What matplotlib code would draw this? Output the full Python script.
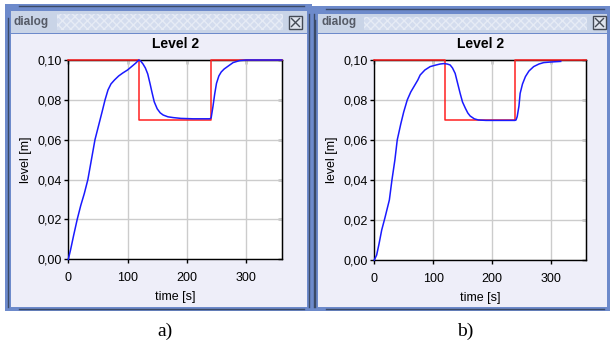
import matplotlib
matplotlib.use("Agg")
import matplotlib.pyplot as plt
from matplotlib.patches import Rectangle

# Data
t_ref = [0, 120, 120, 240, 240, 360]
level_ref = [0.10, 0.10, 0.07, 0.07, 0.10, 0.10]

t_a = [0, 4, 9, 15, 21, 27, 33, 39, 45, 51, 57, 62, 67, 72, 78, 85, 92, 100,
       108, 114, 119, 122, 126, 130, 134, 138, 141, 145, 150, 155, 160, 168,
       177, 190, 210, 239, 241, 244, 247, 250, 254, 258, 263, 270, 278, 289,
       300, 360]
level_a = [0.000, 0.005, 0.012, 0.020, 0.027, 0.033, 0.040, 0.050, 0.060,
           0.067, 0.074, 0.080, 0.085, 0.088, 0.090, 0.092, 0.0935, 0.095,
           0.097, 0.0985, 0.100, 0.0995, 0.098, 0.096, 0.093, 0.088, 0.084,
           0.079, 0.0755, 0.0735, 0.0724, 0.0715, 0.0711, 0.0707, 0.0705,
           0.0705, 0.071, 0.0766, 0.083, 0.0883, 0.092, 0.094, 0.0955, 0.097,
           0.0987, 0.0997, 0.100, 0.100]

t_b = [0, 4, 8, 12.6, 18, 25.6, 30, 35, 39, 45, 50, 56, 62, 68, 74, 78, 86,
       95, 105, 112, 118, 124, 129, 133, 137.5, 142, 146, 150, 155, 159, 163,
       170, 177, 190, 210, 239, 241, 243, 246, 248, 252, 257, 263, 271, 280,
       288, 300, 317]
level_b = [0.000, 0.0025, 0.008, 0.015, 0.021, 0.030, 0.040, 0.050, 0.060,
           0.068, 0.074, 0.080, 0.084, 0.087, 0.090, 0.0925, 0.095, 0.0967,
           0.0975, 0.098, 0.0982, 0.098, 0.0975, 0.096, 0.0933, 0.088, 0.0833,
           0.079, 0.0758, 0.0735, 0.072, 0.0706, 0.070, 0.0698, 0.0698, 0.0698,
           0.0700, 0.0717, 0.077, 0.0833, 0.088, 0.0917, 0.0945, 0.0967, 0.098,
           0.0987, 0.099, 0.0993]

x_ticks = [0, 100, 200, 300]
y_ticks = [0.00, 0.02, 0.04, 0.06, 0.08, 0.10]
y_tick_labels = ["0,00", "0,02", "0,04", "0,06", "0,08", "0,10"]
captions = ["a)", "b)"]

W, H = 610, 347
plt.rcParams['font.family'] = ['Liberation Sans', 'DejaVu Sans']

fig = plt.figure(figsize=(W / 100, H / 100), dpi=100)
fig.patch.set_facecolor("white")

# background canvas in pixel coordinates (origin top-left)
bg = fig.add_axes([0, 0, 1, 1], zorder=0)
bg.set_xlim(0, W)
bg.set_ylim(H, 0)
bg.axis("off")

BLUE = "#6d8acb"
DARK = "#3b4a66"
CONTENT = "#eeeef9"
TITLEBAR = "#c9d4e7"


def rect(x0, y0, x1, y1, **kw):
    bg.add_patch(Rectangle((x0, y0), x1 - x0, y1 - y0, **kw))


def window(x0, y0, x1, y1, top_line, close_x):
    rect(x0, y0, x1, y1, facecolor=BLUE, edgecolor="none")
    # dark inner frame lines
    bg.plot([x0 + 3, x0 + 3], [y0 + 14, y1 - 4], color=DARK, lw=1)
    bg.plot([x0 + 14, x1 - 8], [top_line, top_line], color=DARK, lw=1)
    bg.plot([x0 + 14, x1 - 8], [y1 - 2, y1 - 2], color=DARK, lw=1)
    # title bar
    rect(x0 + 6, top_line + 5, x1 - 5, 33, facecolor=TITLEBAR, edgecolor="none")
    rect(x0 + 52, top_line + 8, close_x - 6, 30, facecolor="#d3dcee",
         edgecolor="#e6ebf5", hatch="xxxx", lw=0)
    bg.text(x0 + 9, 22, "dialog", fontsize=8.5, fontweight="bold",
            color="#555a66", va="center", ha="left")
    # close box
    rect(close_x, 16, close_x + 13, 29, facecolor="#dfe4ee", edgecolor="#444a55", lw=1)
    bg.plot([close_x + 2.5, close_x + 10.5], [18.5, 26.5], color="#444a55", lw=1)
    bg.plot([close_x + 2.5, close_x + 10.5], [26.5, 18.5], color="#444a55", lw=1)
    # content
    rect(x0 + 6, 34, x1 - 5, y1 - 4, facecolor=CONTENT, edgecolor="none")


window(5, 4, 312, 311, 6, 289)
window(312, 6, 612, 311, 9, 593)
bg.plot([309, 309], [14, 307], color=DARK, lw=1)
bg.plot([314, 314], [14, 307], color=DARK, lw=1)

panels = [
    (68.3, 281.7, 259.3, t_a, level_a, 165),
    (374.3, 586.0, 260.0, t_b, level_b, 465),
]

for (px0, px1, py0, t, lev, cap_x), cap in zip(panels, captions):
    py1 = 60.0
    ax = fig.add_axes([px0 / W, (H - py0) / H, (px1 - px0) / W, (py0 - py1) / H],
                      zorder=2)
    ax.set_facecolor("white")
    ax.grid(True, color="#cccccc", lw=1)
    ax.set_axisbelow(True)
    ax.plot(t_ref, level_ref, color="#ff2020", lw=1.1, zorder=4, clip_on=False)
    ax.plot(t, lev, color="#1a1aff", lw=1.1, zorder=5, clip_on=False)
    ax.set_xlim(0, 360)
    ax.set_ylim(0, 0.10)
    ax.set_xticks(x_ticks)
    ax.set_yticks(y_ticks)
    ax.set_yticklabels(y_tick_labels)
    ax.tick_params(direction="out", length=3, width=1, labelsize=9,
                   colors="black")
    ax.tick_params(axis="y", pad=1.5)
    ax.tick_params(axis="x", pad=6)
    for s in ax.spines.values():
        s.set_linewidth(1)
        s.set_color("black")
    # inward ticks on top and right
    top = ax.secondary_xaxis("top")
    top.set_xticks(x_ticks)
    top.tick_params(direction="in", length=3, width=1, labeltop=False)
    right = ax.secondary_yaxis("right")
    right.set_yticks(y_ticks)
    right.tick_params(direction="in", length=3, width=1, labelright=False)

    ax.set_xlabel("time [s]", fontsize=9)
    ax.xaxis.set_label_coords(0.5, -0.16)
    ax.set_ylabel("level [m]", fontsize=9)
    ax.yaxis.set_label_coords(-0.17, 0.5)
    ax.text(0.5, 1.079, "Level 2", transform=ax.transAxes, ha="center",
            va="center", fontsize=10, fontweight="bold")

    bg.text(cap_x, 331, cap, fontsize=14, family=["Liberation Serif", "DejaVu Serif"],
            ha="center", va="center")

fig.savefig("out.png", dpi=100)
